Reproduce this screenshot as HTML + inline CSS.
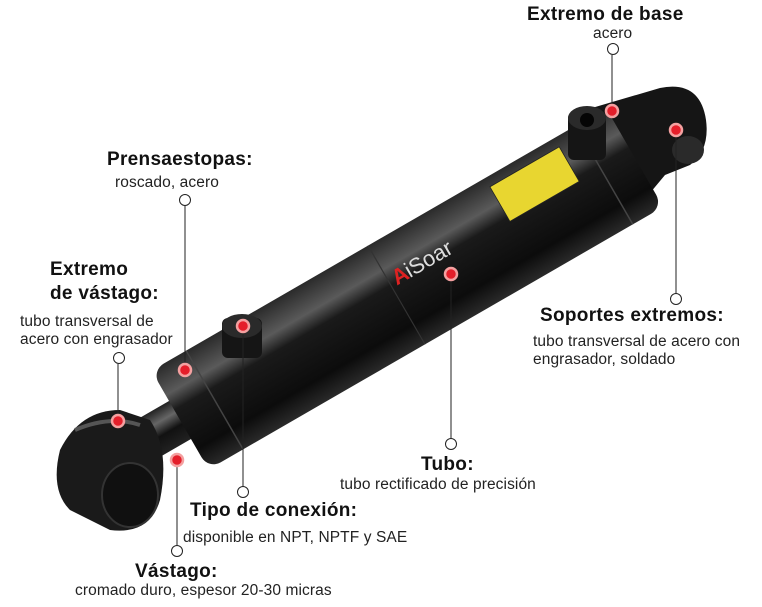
<!DOCTYPE html>
<html><head><meta charset="utf-8"><style>
html,body{margin:0;padding:0;background:#fff;}
body{width:762px;height:607px;overflow:hidden;position:relative;font-family:"Liberation Sans",sans-serif;}
.h{position:absolute;font-weight:bold;font-size:19px;color:#111;white-space:nowrap;letter-spacing:0.3px}
.s{position:absolute;font-size:15.5px;color:#222;white-space:nowrap;letter-spacing:0.1px}
svg{position:absolute;left:0;top:0}
</style></head><body>
<svg width="762" height="607" viewBox="0 0 762 607">
<defs>
<linearGradient id="bar" x1="0" y1="0" x2="0" y2="1">
<stop offset="0" stop-color="#2a2a2a"/><stop offset="0.25" stop-color="#5a5a5a"/><stop offset="0.4" stop-color="#1a1a1a"/><stop offset="0.8" stop-color="#0c0c0c"/><stop offset="1" stop-color="#2a2a2a"/>
</linearGradient>
<linearGradient id="rod" x1="0" y1="0" x2="0" y2="1">
<stop offset="0" stop-color="#222"/><stop offset="0.3" stop-color="#666"/><stop offset="0.6" stop-color="#111"/><stop offset="1" stop-color="#222"/>
</linearGradient>
</defs>
<path d="M585 110 L660 88 Q700 80 706 120 Q710 150 690 165 L665 175 L640 205 Z" fill="#151515"/>
<ellipse cx="688" cy="150" rx="16" ry="14" fill="#2a2a2a"/>
<g transform="translate(180,420) rotate(-30)">
<rect x="-95" y="-22" width="105" height="44" fill="url(#rod)"/>
<rect x="0" y="-57" width="525" height="114" rx="14" fill="url(#bar)"/>
<line x1="40" y1="-57" x2="40" y2="57" stroke="#444" stroke-width="1.5"/>
<line x1="250" y1="-57" x2="250" y2="57" stroke="#333" stroke-width="1.2"/>
<line x1="490" y1="-57" x2="490" y2="57" stroke="#444" stroke-width="1.5"/>
<rect x="385" y="-47" width="80" height="40" fill="#e8d630" stroke="#222" stroke-width="0.8"/>
<text x="270" y="-8" font-family="Liberation Sans,sans-serif" font-size="22" fill="#ddd">iSoar</text>
<text x="255" y="-8" font-family="Liberation Sans,sans-serif" font-size="22" font-weight="bold" fill="#d22">A</text>
</g>
<path d="M60 450 Q80 410 120 410 L150 420 Q170 450 160 500 Q150 535 110 530 L70 510 Q50 490 60 450 Z" fill="#1a1a1a"/>
<ellipse cx="130" cy="495" rx="28" ry="32" fill="#101010" stroke="#333" stroke-width="2"/>
<path d="M75 430 Q110 415 140 425" stroke="#555" stroke-width="4" fill="none"/>
<rect x="222" y="318" width="40" height="40" rx="6" fill="#151515"/>
<ellipse cx="242" cy="326" rx="20" ry="12" fill="#2a2a2a"/>
<rect x="568" y="112" width="38" height="48" rx="6" fill="#151515"/>
<ellipse cx="587" cy="118" rx="19" ry="12" fill="#2a2a2a"/>
<circle cx="587" cy="120" r="7" fill="#050505"/>
<g stroke="#222" stroke-width="1" fill="#fff">
<line x1="612" y1="111" x2="612" y2="55"/><line x1="676" y1="130" x2="676" y2="293"/>
<line x1="185" y1="370" x2="185" y2="206"/><line x1="118" y1="421" x2="118" y2="364"/>
<line x1="451" y1="274" x2="451" y2="438"/><line x1="243" y1="326" x2="243" y2="486"/>
<line x1="177" y1="460" x2="177" y2="545"/>
<circle cx="613" cy="49" r="5.5"/><circle cx="185" cy="200" r="5.5"/><circle cx="119" cy="358" r="5.5"/>
<circle cx="676" cy="299" r="5.5"/><circle cx="451" cy="444" r="5.5"/><circle cx="243" cy="492" r="5.5"/><circle cx="177" cy="551" r="5.5"/>
</g>
<g fill="#e41e2a" stroke="#f4a0a0" stroke-width="2.5">
<circle cx="451" cy="274" r="6"/><circle cx="243" cy="326" r="6"/><circle cx="185" cy="370" r="6"/>
<circle cx="118" cy="421" r="6"/><circle cx="177" cy="460" r="6"/><circle cx="612" cy="111" r="6"/><circle cx="676" cy="130" r="6"/>
</g>
</svg>
<div class="h" style="left:527px;top:4px">Extremo de base</div>
<div class="s" style="left:593px;top:25px">acero</div>
<div class="h" style="left:107px;top:149px">Prensaestopas:</div>
<div class="s" style="left:115px;top:174px">roscado, acero</div>
<div class="h" style="left:50px;top:259px">Extremo</div>
<div class="h" style="left:50px;top:283px">de vástago:</div>
<div class="s" style="left:20px;top:313px">tubo transversal de</div>
<div class="s" style="left:20px;top:331px">acero con engrasador</div>
<div class="h" style="left:540px;top:305px">Soportes extremos:</div>
<div class="s" style="left:533px;top:333px">tubo transversal de acero con</div>
<div class="s" style="left:533px;top:351px">engrasador, soldado</div>
<div class="h" style="left:421px;top:454px">Tubo:</div>
<div class="s" style="left:340px;top:476px">tubo rectificado de precisión</div>
<div class="h" style="left:190px;top:500px">Tipo de conexión:</div>
<div class="s" style="left:183px;top:529px">disponible en NPT, NPTF y SAE</div>
<div class="h" style="left:135px;top:561px">Vástago:</div>
<div class="s" style="left:75px;top:582px">cromado duro, espesor 20-30 micras</div>
</body></html>
